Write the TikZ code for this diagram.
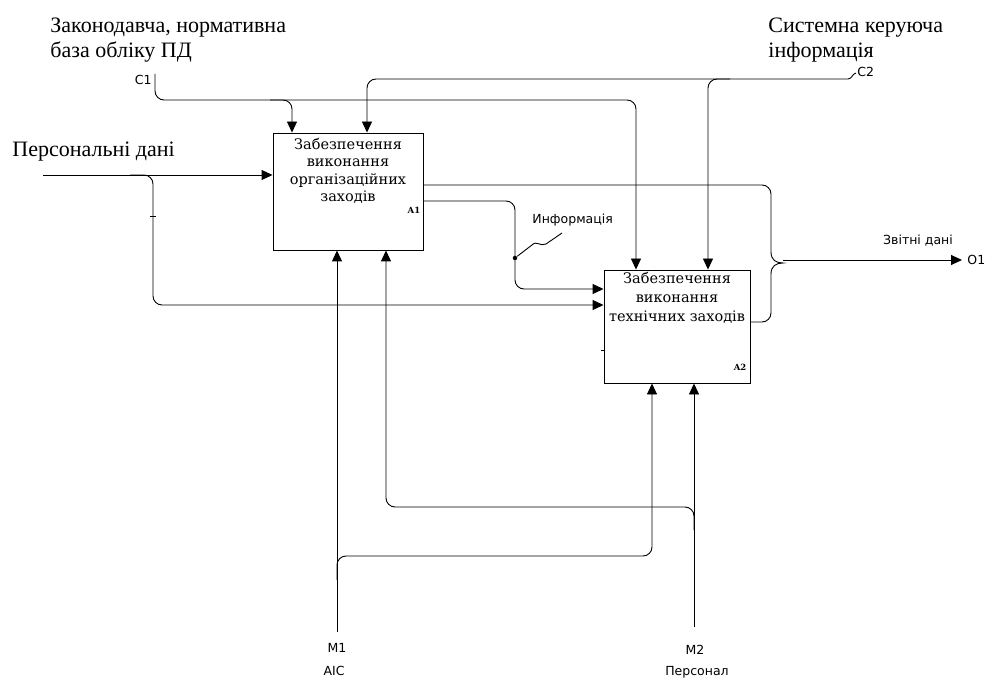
\documentclass[tikz,border=0pt]{standalone}
\usepackage{fontspec}
\setmainfont{Liberation Serif}
\newfontfamily\boxfont{DejaVu Serif}
\newfontfamily\lblfont{DejaVu Sans}
\usetikzlibrary{arrows.meta,positioning}

\begin{document}
\begin{tikzpicture}[x=1pt,y=-1pt,line width=0.9pt,
  func/.style={draw,rectangle,inner sep=0pt},
  ftxt/.style={font=\boxfont\fontsize{14.5}{17.5}\selectfont,align=center,inner sep=0pt},
  fnum/.style={font=\boxfont\bfseries\fontsize{8.5}{9}\selectfont,inner sep=0pt},
  ttl/.style={font=\fontsize{22}{25}\selectfont,align=left,inner sep=0pt,anchor=north west},
  lbl/.style={font=\lblfont\fontsize{12.5}{14}\selectfont,inner sep=0pt},
  arr/.style={-{Triangle[length=11pt,width=10pt]}},
  rc/.style={rounded corners=9pt},
  dot/.style={circle,fill,inner sep=0pt,minimum size=4.5pt}
]
\useasboundingbox (0,0) rectangle (994,679);

% functions
\node[func,minimum width=150pt,minimum height=117pt] (a1) at (348,191.5) {};
\node[func,minimum width=146pt,minimum height=113pt] (a2) at (677,326.5) {};
\node[ftxt,below=5pt of a1.north] (a1t) {Забезпечення\\виконання\\організаційних\\заходів};
\node[ftxt,below=2pt of a2.north,font=\boxfont\fontsize{14.5}{19}\selectfont] (a2t) {Забезпечення\\виконання\\технічних заходів};
\node[fnum] (a1n) at (414,210) {A1};
\node[fnum] (a2n) at (740,367) {A2};

% free ends
\coordinate (pd) at (43,175);
\coordinate (c1) at (155,74);
\coordinate (c2) at (848,79);
\coordinate (m1) at (337,632);
\coordinate (m2) at (694,627);
\coordinate (o1) at (962,260);
\coordinate (br) at (783,263);

% texts
\node[ttl] (ctl1) at (50,17) {Законодавча, нормативна\\база обліку ПД};
\node[ttl] (ctl2) at (768,17) {Системна керуюча\\інформація};
\node[ttl] (inp) at (12,141) {Персональні дані};
\node[lbl,anchor=east] (c1l) at (152,80) {C1};
\node[lbl,anchor=west] (c2l) at (857,72) {C2};
\node[lbl,anchor=west] (infl) at (532,220) {Информація};
\node[lbl] (outl) at (918,241) {Звітні дані};
\node[lbl,anchor=west] (o1l) at (967,260) {O1};
\node[lbl] (m1l) at (337,648) {M1};
\node[lbl] (m1t) at (334,671) {АІС};
\node[lbl] (m2l) at (695,650) {M2};
\node[lbl] (m2t) at (697,672) {Персонал};

% controls
\draw (c2) .. controls (852,79) and (852,74) .. (856,73);
\draw[rc,arr] (c1) |- (636,100) -- (a2.north -| 636,0);
\draw[rc,arr] (270,100) -| (a1.north -| 292,0);
\draw[rc,arr] (c2) -| (a1.north -| 367,0);
\draw[rc,arr] (730,79) -| (a2.north -| 708,0);

% inputs
\draw[arr] (pd) -- (a1.west |- pd);
\draw[rc,arr] (130,175) -| (153,305) -- (a2.west |- 0,305);
\draw (150,216) -- (156,216);
\draw[rc,arr] (a1.east |- 0,201) -| (515,289) -- (a2.west |- 0,289);
\node[dot] (jn) at (515,258) {};
\draw (jn) -- (532,245) .. controls (537,240) and (540,247) .. (546,244) -- (562,233);
\draw (601,350) -- (604,350);

% outputs
\draw[rc] (a1.east |- 0,185) -| (771,252);
\draw (771,252) .. controls (771,260) and (776,263) .. (br) .. controls (776,263) and (771,266) .. (771,274);
\draw[rc] (771,274) |- (a2.east |- 0,322);
\draw[arr] (br |- o1) -- (o1);

% mechanisms
\draw[arr] (m1) -- (a1.south -| m1);
\draw[rc,arr] (337,580) |- (652,556) -- (a2.south -| 652,0);
\draw[arr] (m2) -- (a2.south -| m2);
\draw[rc,arr] (694,530) |- (386,507) -- (a1.south -| 386,0);
\end{tikzpicture}
\end{document}
